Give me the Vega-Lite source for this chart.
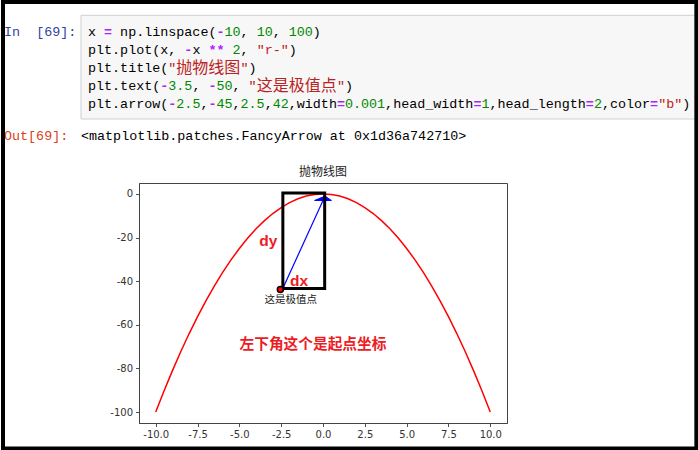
{
  "$schema": "https://vega.github.io/schema/vega-lite/v6.json",
  "width": 368,
  "height": 240,
  "autosize": {"type": "none"},
  "padding": {"left": 139, "top": 183, "right": 191, "bottom": 27},
  "background": "white",
  "config": {"view": {"stroke": "#444", "strokeWidth": 1}},
  "datasets": {
    "curve": [
      {"x": -10, "y": -100}, {"x": -9.5, "y": -90.25}, {"x": -9, "y": -81}, {"x": -8.5, "y": -72.25},
      {"x": -8, "y": -64}, {"x": -7.5, "y": -56.25}, {"x": -7, "y": -49}, {"x": -6.5, "y": -42.25},
      {"x": -6, "y": -36}, {"x": -5.5, "y": -30.25}, {"x": -5, "y": -25}, {"x": -4.5, "y": -20.25},
      {"x": -4, "y": -16}, {"x": -3.5, "y": -12.25}, {"x": -3, "y": -9}, {"x": -2.5, "y": -6.25},
      {"x": -2, "y": -4}, {"x": -1.5, "y": -2.25}, {"x": -1, "y": -1}, {"x": -0.5, "y": -0.25},
      {"x": 0, "y": 0},
      {"x": 0.5, "y": -0.25}, {"x": 1, "y": -1}, {"x": 1.5, "y": -2.25}, {"x": 2, "y": -4},
      {"x": 2.5, "y": -6.25}, {"x": 3, "y": -9}, {"x": 3.5, "y": -12.25}, {"x": 4, "y": -16},
      {"x": 4.5, "y": -20.25}, {"x": 5, "y": -25}, {"x": 5.5, "y": -30.25}, {"x": 6, "y": -36},
      {"x": 6.5, "y": -42.25}, {"x": 7, "y": -49}, {"x": 7.5, "y": -56.25}, {"x": 8, "y": -64},
      {"x": 8.5, "y": -72.25}, {"x": 9, "y": -81}, {"x": 9.5, "y": -90.25}, {"x": 10, "y": -100}
    ],
    "title": [{"x": 0, "y": 10.0, "t": "抛物线图"}],
    "arrow": [{"x0": -2.5, "y0": -45, "x1": 0, "y1": -3}],
    "head": [{"x": 0, "y": -3}],
    "label": [{"x": -3.5, "y": -50, "t": "这是极值点"}],
    "box": [{"x0": -2.4, "x1": 0.1, "y0": 0.42, "y1": -43.3}],
    "dot": [{"x": -2.55, "y": -43.8}],
    "dxdy": [{"x": -3.81, "y": -23.8, "t": "dy"}, {"x": -1.97, "y": -42.2, "t": "dx"}],
    "note": [{"x": -0.6, "y": -69.1, "t": "左下角这个是起点坐标"}],
    "cell": [{"c0": -0.87, "c1": 75.72, "l0": 0.092, "l1": 5.83}],
    "frame": [{"c0": -10.585, "c1": 75.76, "l0": -0.644, "l1": 24.06}],
    "code": [
      {"line": 1, "col": -10.46, "t": "In", "k": "pin"},
      {"line": 1, "col": -6.46, "t": "[69]:", "k": "pin"},
      {"line": 1, "col": 0, "t": "x", "k": "name"},
      {"line": 1, "col": 2, "t": "=", "k": "op"},
      {"line": 1, "col": 4, "t": "np.linspace(", "k": "name"},
      {"line": 1, "col": 16, "t": "-", "k": "op"},
      {"line": 1, "col": 17, "t": "10", "k": "num"},
      {"line": 1, "col": 19, "t": ",", "k": "name"},
      {"line": 1, "col": 21, "t": "10", "k": "num"},
      {"line": 1, "col": 23, "t": ",", "k": "name"},
      {"line": 1, "col": 25, "t": "100", "k": "num"},
      {"line": 1, "col": 28, "t": ")", "k": "name"},
      {"line": 2, "col": 0, "t": "plt.plot(x,", "k": "name"},
      {"line": 2, "col": 12, "t": "-", "k": "op"},
      {"line": 2, "col": 13, "t": "x", "k": "name"},
      {"line": 2, "col": 15, "t": "**", "k": "op"},
      {"line": 2, "col": 18, "t": "2", "k": "num"},
      {"line": 2, "col": 19, "t": ",", "k": "name"},
      {"line": 2, "col": 21, "t": "\"r-\"", "k": "str"},
      {"line": 2, "col": 25, "t": ")", "k": "name"},
      {"line": 3, "col": 0, "t": "plt.title(", "k": "name"},
      {"line": 3, "col": 10, "t": "\"", "k": "str"},
      {"line": 3, "col": 11, "t": "抛物线图", "k": "cjk"},
      {"line": 3, "col": 19, "t": "\"", "k": "str"},
      {"line": 3, "col": 20, "t": ")", "k": "name"},
      {"line": 4, "col": 0, "t": "plt.text(", "k": "name"},
      {"line": 4, "col": 9, "t": "-", "k": "op"},
      {"line": 4, "col": 10, "t": "3.5", "k": "num"},
      {"line": 4, "col": 13, "t": ",", "k": "name"},
      {"line": 4, "col": 15, "t": "-", "k": "op"},
      {"line": 4, "col": 16, "t": "50", "k": "num"},
      {"line": 4, "col": 18, "t": ",", "k": "name"},
      {"line": 4, "col": 20, "t": "\"", "k": "str"},
      {"line": 4, "col": 21, "t": "这是极值点", "k": "cjk"},
      {"line": 4, "col": 31, "t": "\"", "k": "str"},
      {"line": 4, "col": 32, "t": ")", "k": "name"},
      {"line": 5, "col": 0, "t": "plt.arrow(", "k": "name"},
      {"line": 5, "col": 10, "t": "-", "k": "op"},
      {"line": 5, "col": 11, "t": "2.5", "k": "num"},
      {"line": 5, "col": 14, "t": ",", "k": "name"},
      {"line": 5, "col": 15, "t": "-", "k": "op"},
      {"line": 5, "col": 16, "t": "45", "k": "num"},
      {"line": 5, "col": 18, "t": ",", "k": "name"},
      {"line": 5, "col": 19, "t": "2.5", "k": "num"},
      {"line": 5, "col": 22, "t": ",", "k": "name"},
      {"line": 5, "col": 23, "t": "42", "k": "num"},
      {"line": 5, "col": 25, "t": ",width", "k": "name"},
      {"line": 5, "col": 31, "t": "=", "k": "op"},
      {"line": 5, "col": 32, "t": "0.001", "k": "num"},
      {"line": 5, "col": 37, "t": ",head_width", "k": "name"},
      {"line": 5, "col": 48, "t": "=", "k": "op"},
      {"line": 5, "col": 49, "t": "1", "k": "num"},
      {"line": 5, "col": 50, "t": ",head_length", "k": "name"},
      {"line": 5, "col": 62, "t": "=", "k": "op"},
      {"line": 5, "col": 63, "t": "2", "k": "num"},
      {"line": 5, "col": 64, "t": ",color", "k": "name"},
      {"line": 5, "col": 70, "t": "=", "k": "op"},
      {"line": 5, "col": 71, "t": "\"b\"", "k": "str"},
      {"line": 5, "col": 74, "t": ")", "k": "name"},
      {"line": 6.78, "col": -10.46, "t": "Out[69]:", "k": "pout"},
      {"line": 6.78, "col": -0.87, "t": "<matplotlib.patches.FancyArrow at 0x1d36a742710>", "k": "out"}
    ]
  },
  "layer": [
    {
      "layer": [
        {
          "data": {"name": "curve"},
          "mark": {"type": "line", "color": "#ff0000", "strokeWidth": 1.5},
          "encoding": {
            "x": {"field": "x", "type": "quantitative", "title": null,
                  "scale": {"domain": [-11, 11], "nice": false, "zero": false},
                  "axis": {"values": [-10, -7.5, -5, -2.5, 0, 2.5, 5, 7.5, 10],
                           "labelExpr": "replace(format(datum.value, '.1f'), '\u2212', '-')",
                           "grid": false, "tickSize": 3.5, "tickColor": "#222", "tickWidth": 0.8,
                           "domainColor": "#444", "domainWidth": 1,
                           "labelFont": "DejaVu Sans", "labelFontSize": 10, "labelColor": "#333",
                           "labelPadding": 3, "labelFlush": false, "labelOverlap": false, "title": null}},
            "y": {"field": "y", "type": "quantitative", "title": null,
                  "scale": {"domain": [-105, 5], "nice": false, "zero": false},
                  "axis": {"values": [0, -20, -40, -60, -80, -100],
                           "labelExpr": "'' + datum.value",
                           "grid": false, "tickSize": 3.5, "tickColor": "#222", "tickWidth": 0.8,
                           "domainColor": "#444", "domainWidth": 1,
                           "labelFont": "DejaVu Sans", "labelFontSize": 10, "labelColor": "#333",
                           "labelPadding": 3, "labelFlush": false, "labelOverlap": false, "title": null}}
          }
        },
        {
          "data": {"name": "title"},
          "mark": {"type": "text", "font": "Noto Sans CJK SC", "fontSize": 12, "color": "#222", "align": "center", "baseline": "middle"},
          "encoding": {
            "x": {"field": "x", "type": "quantitative", "title": null, "scale": {"domain": [-11, 11], "nice": false, "zero": false}},
            "y": {"field": "y", "type": "quantitative", "title": null, "scale": {"domain": [-105, 5], "nice": false, "zero": false}},
            "text": {"field": "t"}
          }
        },
        {
          "data": {"name": "arrow"},
          "mark": {"type": "rule", "color": "#0000ff", "strokeWidth": 1.2},
          "encoding": {
            "x": {"field": "x0", "type": "quantitative", "title": null, "scale": {"domain": [-11, 11], "nice": false, "zero": false}},
            "y": {"field": "y0", "type": "quantitative", "title": null, "scale": {"domain": [-105, 5], "nice": false, "zero": false}},
            "x2": {"field": "x1"},
            "y2": {"field": "y1"}
          }
        },
        {
          "data": {"name": "head"},
          "mark": {"type": "point", "shape": "M-1,0L1,0L0.238,-0.519Z", "filled": true, "color": "#0000ff", "stroke": "#0000ff", "strokeWidth": 1, "opacity": 1, "size": 282},
          "encoding": {
            "x": {"field": "x", "type": "quantitative", "title": null, "scale": {"domain": [-11, 11], "nice": false, "zero": false}},
            "y": {"field": "y", "type": "quantitative", "title": null, "scale": {"domain": [-105, 5], "nice": false, "zero": false}}
          }
        },
        {
          "data": {"name": "label"},
          "mark": {"type": "text", "font": "Noto Sans CJK SC", "fontSize": 10.5, "color": "#222", "align": "left", "baseline": "alphabetic"},
          "encoding": {
            "x": {"field": "x", "type": "quantitative", "title": null, "scale": {"domain": [-11, 11], "nice": false, "zero": false}},
            "y": {"field": "y", "type": "quantitative", "title": null, "scale": {"domain": [-105, 5], "nice": false, "zero": false}},
            "text": {"field": "t"}
          }
        },
        {
          "data": {"name": "box"},
          "mark": {"type": "rect", "fill": "transparent", "stroke": "#000000", "strokeWidth": 3},
          "encoding": {
            "x": {"field": "x0", "type": "quantitative", "title": null, "scale": {"domain": [-11, 11], "nice": false, "zero": false}},
            "y": {"field": "y0", "type": "quantitative", "title": null, "scale": {"domain": [-105, 5], "nice": false, "zero": false}},
            "x2": {"field": "x1"},
            "y2": {"field": "y1"}
          }
        },
        {
          "data": {"name": "dot"},
          "mark": {"type": "point", "shape": "circle", "filled": true, "color": "#ff0000", "stroke": "#000000", "strokeWidth": 1.5, "opacity": 1, "size": 36},
          "encoding": {
            "x": {"field": "x", "type": "quantitative", "title": null, "scale": {"domain": [-11, 11], "nice": false, "zero": false}},
            "y": {"field": "y", "type": "quantitative", "title": null, "scale": {"domain": [-105, 5], "nice": false, "zero": false}}
          }
        },
        {
          "data": {"name": "dxdy"},
          "mark": {"type": "text", "font": "Liberation Sans", "fontWeight": "bold", "fontSize": 15.5, "color": "#ed1c24", "align": "left", "baseline": "alphabetic"},
          "encoding": {
            "x": {"field": "x", "type": "quantitative", "title": null, "scale": {"domain": [-11, 11], "nice": false, "zero": false}},
            "y": {"field": "y", "type": "quantitative", "title": null, "scale": {"domain": [-105, 5], "nice": false, "zero": false}},
            "text": {"field": "t"}
          }
        },
        {
          "data": {"name": "note"},
          "mark": {"type": "text", "font": "Noto Sans CJK SC", "fontWeight": "bold", "fontSize": 14.7, "color": "#ed1c24", "align": "center", "baseline": "middle"},
          "encoding": {
            "x": {"field": "x", "type": "quantitative", "title": null, "scale": {"domain": [-11, 11], "nice": false, "zero": false}},
            "y": {"field": "y", "type": "quantitative", "title": null, "scale": {"domain": [-105, 5], "nice": false, "zero": false}},
            "text": {"field": "t"}
          }
        }
      ]
    },
    {
      "layer": [
        {
          "data": {"name": "cell"},
          "mark": {"type": "rect", "fill": "#f7f7f7", "stroke": "#cfcfcf", "strokeWidth": 1},
          "encoding": {
            "x": {"field": "c0", "type": "quantitative", "axis": null, "scale": {"domain": [0, 75], "range": [-51, 551.25], "nice": false, "zero": false}},
            "y": {"field": "l0", "type": "quantitative", "axis": null, "scale": {"domain": [1, 5], "range": [-151.3, -79.0], "nice": false, "zero": false}},
            "x2": {"field": "c1"},
            "y2": {"field": "l1"}
          }
        },
        {
          "data": {"name": "code"},
          "transform": [{"filter": "datum.k != 'op' && datum.k != 'cjk'"}],
          "mark": {"type": "text", "font": "Liberation Mono", "fontSize": 13.38, "align": "left", "baseline": "middle"},
          "encoding": {
            "x": {"field": "col", "type": "quantitative", "axis": null, "scale": {"domain": [0, 75], "range": [-51, 551.25], "nice": false, "zero": false}},
            "y": {"field": "line", "type": "quantitative", "axis": null, "scale": {"domain": [1, 5], "range": [-151.3, -79.0], "nice": false, "zero": false}},
            "text": {"field": "t"},
            "color": {"field": "k", "type": "nominal", "legend": null,
                      "scale": {"domain": ["name", "op", "num", "str", "cjk", "pin", "pout", "out"],
                                "range": ["#000000", "#aa22ff", "#008800", "#ba2121", "#ba2121", "#303f9f", "#d84315", "#000000"]}}
          }
        },
        {
          "data": {"name": "code"},
          "transform": [{"filter": "datum.k == 'op'"}],
          "mark": {"type": "text", "font": "Liberation Mono", "fontWeight": "bold", "fontSize": 13.38, "align": "left", "baseline": "middle"},
          "encoding": {
            "x": {"field": "col", "type": "quantitative", "axis": null, "scale": {"domain": [0, 75], "range": [-51, 551.25], "nice": false, "zero": false}},
            "y": {"field": "line", "type": "quantitative", "axis": null, "scale": {"domain": [1, 5], "range": [-151.3, -79.0], "nice": false, "zero": false}},
            "text": {"field": "t"},
            "color": {"field": "k", "type": "nominal", "legend": null,
                      "scale": {"domain": ["name", "op", "num", "str", "cjk", "pin", "pout", "out"],
                                "range": ["#000000", "#aa22ff", "#008800", "#ba2121", "#ba2121", "#303f9f", "#d84315", "#000000"]}}
          }
        },
        {
          "data": {"name": "code"},
          "transform": [{"filter": "datum.k == 'cjk'"}],
          "mark": {"type": "text", "font": "Noto Sans CJK SC", "fontSize": 16, "align": "left", "baseline": "middle"},
          "encoding": {
            "x": {"field": "col", "type": "quantitative", "axis": null, "scale": {"domain": [0, 75], "range": [-51, 551.25], "nice": false, "zero": false}},
            "y": {"field": "line", "type": "quantitative", "axis": null, "scale": {"domain": [1, 5], "range": [-151.3, -79.0], "nice": false, "zero": false}},
            "text": {"field": "t"},
            "color": {"field": "k", "type": "nominal", "legend": null,
                      "scale": {"domain": ["name", "op", "num", "str", "cjk", "pin", "pout", "out"],
                                "range": ["#000000", "#aa22ff", "#008800", "#ba2121", "#ba2121", "#303f9f", "#d84315", "#000000"]}}
          }
        },
        {
          "data": {"name": "frame"},
          "mark": {"type": "rect", "fill": "transparent", "stroke": "#000000", "strokeWidth": 4},
          "encoding": {
            "x": {"field": "c0", "type": "quantitative", "axis": null, "scale": {"domain": [0, 75], "range": [-51, 551.25], "nice": false, "zero": false}},
            "y": {"field": "l0", "type": "quantitative", "axis": null, "scale": {"domain": [1, 5], "range": [-151.3, -79.0], "nice": false, "zero": false}},
            "x2": {"field": "c1"},
            "y2": {"field": "l1"}
          }
        }
      ]
    }
  ],
  "resolve": {"scale": {"x": "independent", "y": "independent"}}
}
